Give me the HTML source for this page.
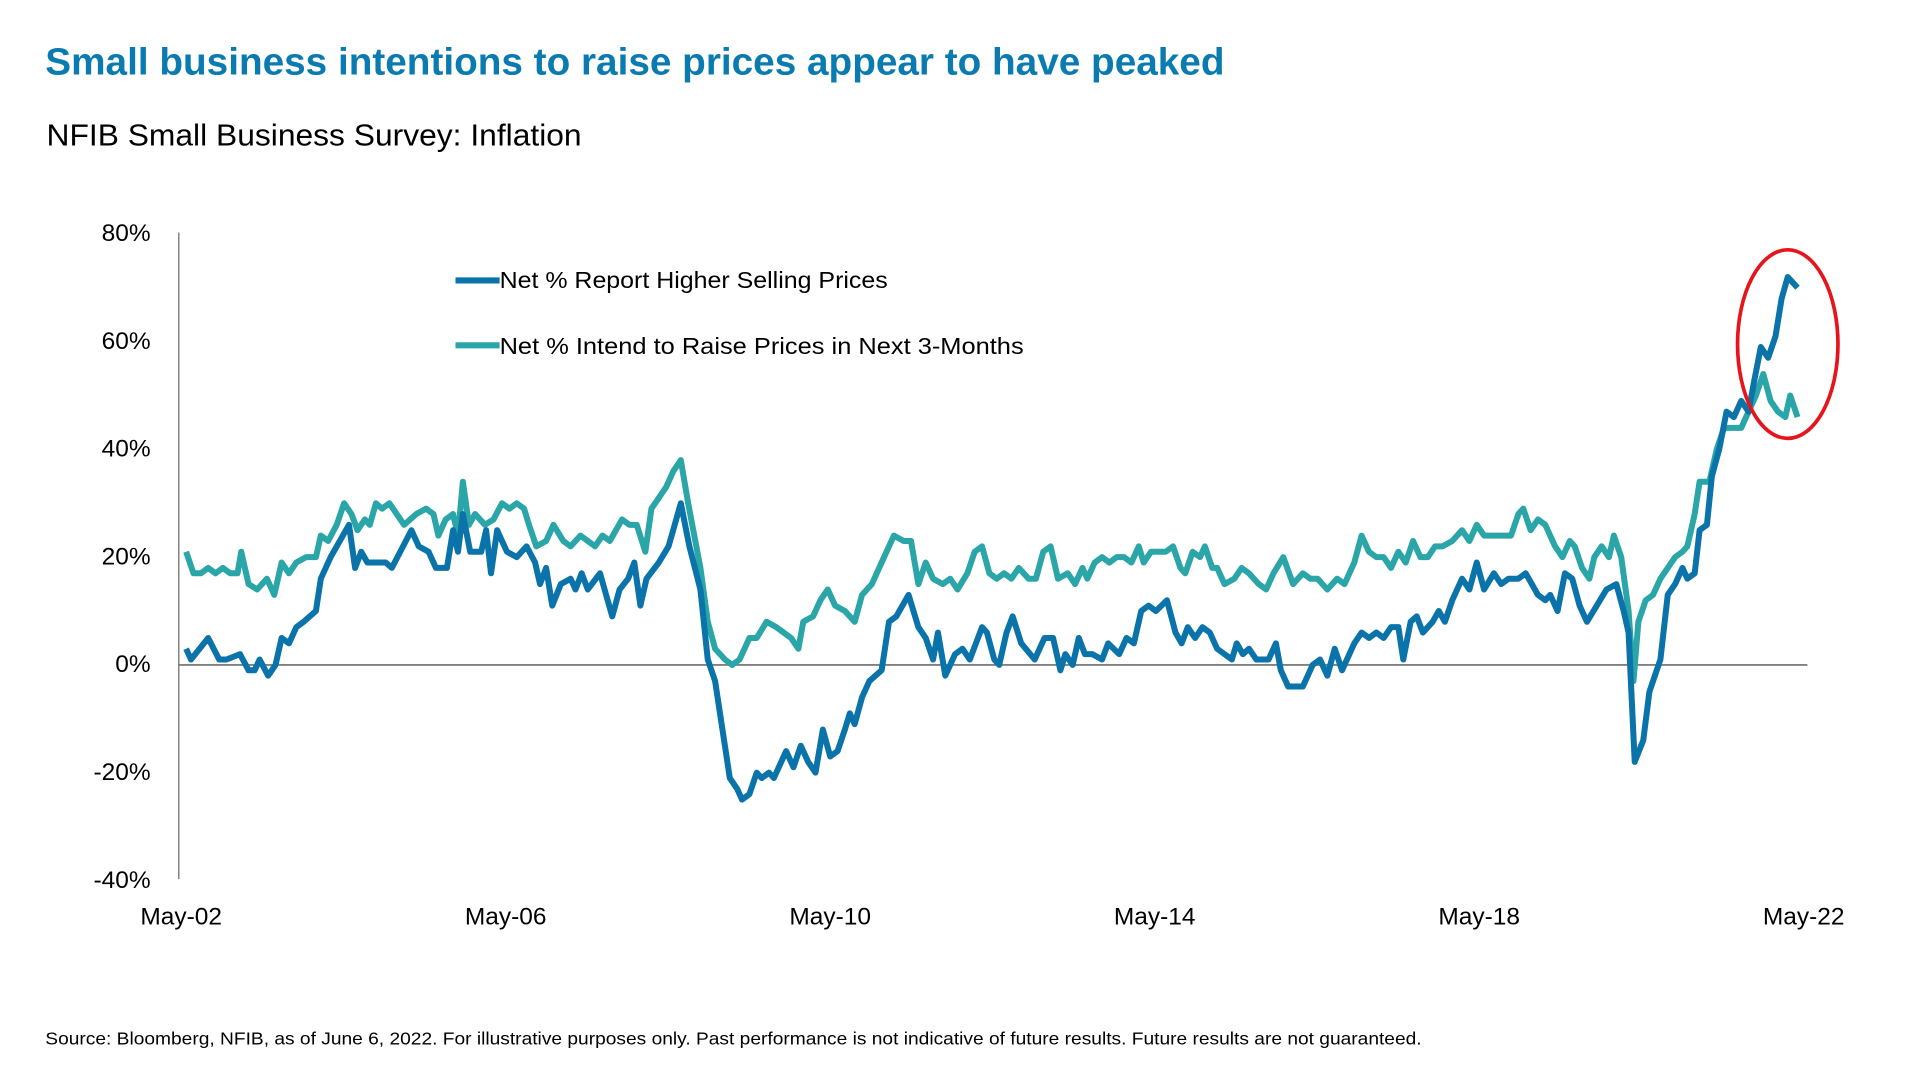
<!DOCTYPE html>
<html><head><meta charset="utf-8"><style>
html,body{margin:0;padding:0;background:#fff;}
svg{display:block;}
text{font-family:"Liberation Sans",sans-serif;}
</style></head><body>
<svg width="1920" height="1080" viewBox="0 0 1568 882" preserveAspectRatio="none" xmlns="http://www.w3.org/2000/svg">
<text x="37" y="61" font-size="31" font-weight="bold" fill="#0a7bb0" textLength="963" lengthAdjust="spacingAndGlyphs">Small business intentions to raise prices appear to have peaked</text>
<text x="38" y="119" font-size="25" fill="#000" textLength="437" lengthAdjust="spacingAndGlyphs">NFIB Small Business Survey: Inflation</text>
<line x1="146" y1="190" x2="146" y2="718" stroke="#808080" stroke-width="1.2"/>
<line x1="146" y1="543" x2="1476" y2="543" stroke="#808080" stroke-width="1.5"/>
<g font-size="20" fill="#000" text-anchor="end">
<text x="123" y="197">80%</text><text x="123" y="285">60%</text><text x="123" y="373">40%</text>
<text x="123" y="461">20%</text><text x="123" y="549">0%</text><text x="123" y="637">-20%</text><text x="123" y="725">-40%</text>
</g>
<g font-size="20" fill="#000" text-anchor="middle">
<text x="148" y="755">May-02</text><text x="413" y="755">May-06</text><text x="678" y="755">May-10</text>
<text x="943" y="755">May-14</text><text x="1208" y="755">May-18</text><text x="1473" y="755">May-22</text>
</g>
<g transform="translate(0,543) scale(1,-4.4)" fill="none" stroke-linejoin="round">
<polyline vector-effect="non-scaling-stroke" stroke="#2aa5a8" stroke-width="6" points="152,21 158,17 164,17 170,18 176,17 182,18 188,17 194,17 197,21 203,15 210,14 218,16 224,13 230,19 236,17 242,19 250,20 258,20 262,24 268,23 275,26 281,30 287,28 292,25 298,27 302,26 307,30 312,29 318,30 330,26 340,28 348,29 354,28 358,24 364,27 370,28 374,24 378,34 383,26 388,28 396,26 403,27 410,30 416,29 422,30 428,29 432,26 438,22 446,23 452,26 460,23 466,22 474,24 480,23 486,22 492,24 498,23 508,27 514,26 520,26 527,21 532,29 538,31 544,33 550,36 556,38 562,30 572,18 578,8 584,3 592,1 598,0 604,1 612,5 618,5 626,8 634,7 646,5 652,3 656,8 664,9 670,12 676,14 682,11 690,10 698,8 704,13 712,15 722,20 730,24 738,23 744,23 750,15 756,19 762,16 770,15 776,16 782,14 790,17 796,21 802,22 808,17 814,16 820,17 826,16 832,18 840,16 846,16 852,21 858,22 864,16 872,17 878,15 884,18 888,16 894,19 900,20 906,19 912,20 918,20 924,19 930,22 934,19 940,21 946,21 952,21 958,22 964,18 968,17 974,21 980,20 984,22 990,18 994,18 1000,15 1008,16 1014,18 1020,17 1028,15 1034,14 1040,17 1048,20 1056,15 1064,17 1070,16 1076,16 1084,14 1092,16 1098,15 1106,19 1112,24 1118,21 1124,20 1130,20 1136,18 1142,21 1148,19 1154,23 1160,20 1166,20 1172,22 1178,22 1186,23 1194,25 1200,23 1206,26 1212,24 1218,24 1226,24 1234,24 1240,28 1244,29 1250,25 1256,27 1262,26 1270,22 1276,20 1282,23 1286,22 1292,18 1298,16 1302,20 1308,22 1314,20 1318,24 1324,20 1330,10 1334,-3 1338,8 1344,12 1350,13 1356,16 1362,18 1368,20 1374,21 1378,22 1384,28 1388,34 1396,34 1402,40 1408,44 1414,44 1422,44 1428,47 1434,50 1440,54 1446,49 1452,47 1458,46 1462,50 1468,46"/>
<polyline vector-effect="non-scaling-stroke" stroke="#0a73aa" stroke-width="6" points="152,3 156,1 170,5 179,1 185,1 196,2 203,-1 208,-1 212,1 219,-2 225,0 230,5 236,4 242,7 248,8 258,10 262,16 270,20 285,26 290,18 295,21 300,19 315,19 320,18 336,25 342,22 350,21 356,18 365,18 370,25 374,21 378,28 384,21 393,21 397,25 401,17 406,25 414,21 422,20 430,22 437,19 441,15 446,18 451,11 458,15 466,16 470,14 475,17 480,14 490,17 500,9 506,14 513,16 518,19 523,11 528,16 538,19 546,22 556,30 563,22 572,14 578,1 584,-3 590,-12 596,-21 602,-23 606,-25 612,-24 618,-20 622,-21 628,-20 632,-21 642,-16 648,-19 654,-15 660,-18 666,-20 672,-12 678,-17 684,-16 690,-12 694,-9 698,-11 704,-6 710,-3 720,-1 726,8 732,9 742,13 750,7 756,5 762,1 766,6 772,-2 780,2 786,3 792,1 802,7 806,6 812,1 816,0 822,6 827,9 834,4 845,1 853,5 860,5 866,-1 870,2 876,0 881,5 886,2 892,2 900,1 905,4 914,2 920,5 926,4 932,10 938,11 944,10 953,12 960,6 965,4 970,7 976,5 982,7 988,6 994,3 1000,2 1006,1 1010,4 1015,2 1020,3 1026,1 1036,1 1042,4 1046,-1 1052,-4 1064,-4 1072,0 1078,1 1084,-2 1090,3 1096,-1 1106,4 1112,6 1118,5 1124,6 1130,5 1136,7 1142,7 1146,1 1152,8 1157,9 1162,6 1170,8 1175,10 1180,8 1186,12 1194,16 1200,14 1206,19 1212,14 1220,17 1226,15 1232,16 1240,16 1246,17 1256,13 1262,12 1266,13 1272,10 1278,17 1284,16 1290,11 1296,8 1304,11 1312,14 1320,15 1326,10 1330,6 1335,-18 1342,-14 1347,-5 1356,1 1362,13 1368,15 1374,18 1378,16 1384,17 1388,25 1394,26 1398,35 1404,40 1410,47 1416,46 1422,49 1428,47 1432,52 1438,59 1444,57 1450,61 1455,68 1460,72 1468,70"/>
</g>
<ellipse cx="1460" cy="281" rx="41" ry="77" fill="none" stroke="#e8141b" stroke-width="3"/>
<line x1="372" y1="229" x2="408" y2="229" stroke="#0a73aa" stroke-width="5"/>
<text x="408" y="235" font-size="19" fill="#000" textLength="317" lengthAdjust="spacingAndGlyphs">Net % Report Higher Selling Prices</text>
<line x1="372" y1="282" x2="408" y2="282" stroke="#2aa5a8" stroke-width="5"/>
<text x="408" y="289" font-size="19" fill="#000" textLength="428" lengthAdjust="spacingAndGlyphs">Net % Intend to Raise Prices in Next 3-Months</text>
<text x="37" y="853" font-size="14" fill="#000" textLength="1124" lengthAdjust="spacingAndGlyphs">Source: Bloomberg, NFIB, as of June 6, 2022. For illustrative purposes only. Past performance is not indicative of future results. Future results are not guaranteed.</text>
</svg>
</body></html>
